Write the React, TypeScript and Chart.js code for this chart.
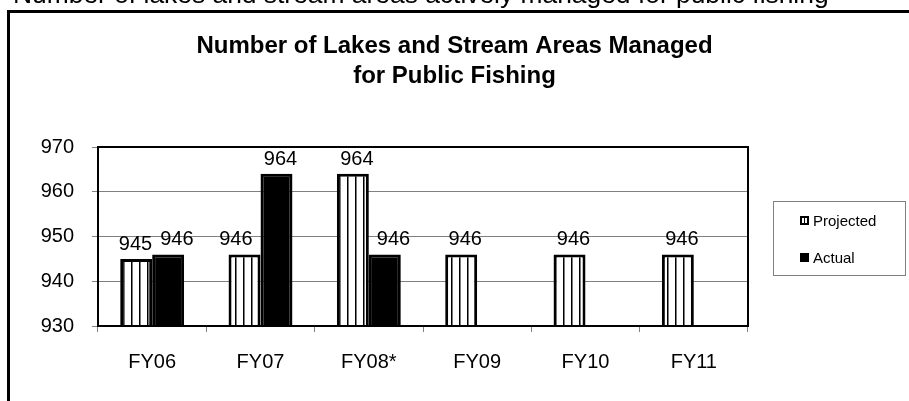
import React, { useEffect, useRef } from 'react';
import { Chart, registerables } from 'chart.js';

Chart.register(...registerables);

const pageHeading = 'Number of lakes and stream areas actively managed for public fishing';
const chartTitleLines = ['Number of Lakes and Stream Areas Managed', 'for Public Fishing'];
const categories = ['FY06', 'FY07', 'FY08*', 'FY09', 'FY10', 'FY11'];
const projectedValues = [945, 946, 964, 946, 946, 946];
const actualValues: (number | null)[] = [946, 964, 946, null, null, null];
const seriesNames = ['Projected', 'Actual'];
const yMin = 930;
const yMax = 970;
const yStep = 10;

const FONT = "'Liberation Sans', Arial, Helvetica, sans-serif";
const W = 909;
const H = 401;

function makeStripePattern(): CanvasPattern | string {
  const c = document.createElement('canvas');
  c.width = 8;
  c.height = 8;
  const g = c.getContext('2d');
  if (!g) return '#fff';
  g.fillStyle = '#fff';
  g.fillRect(0, 0, 8, 8);
  g.fillStyle = '#000';
  g.fillRect(3, 0, 1, 8);
  g.fillStyle = '#7a7a7a';
  g.fillRect(4, 0, 1, 8);
  return g.createPattern(c, 'repeat') || '#fff';
}

const framePlugin = {
  id: 'excelFrame',
  beforeDraw(chart: any) {
    const ctx = chart.ctx as CanvasRenderingContext2D;
    ctx.save();
    ctx.fillStyle = '#fff';
    ctx.fillRect(0, 0, chart.width, chart.height);
    ctx.fillStyle = '#000';
    ctx.font = `26.4px ${FONT}`;
    ctx.textAlign = 'left';
    ctx.textBaseline = 'alphabetic';
    ctx.fillText(pageHeading, 13, 3);
    ctx.strokeStyle = '#000';
    ctx.lineWidth = 3;
    ctx.strokeRect(8.5, 11.5, chart.width + 50, chart.height + 50);
    ctx.font = `bold 24px ${FONT}`;
    ctx.textAlign = 'center';
    chartTitleLines.forEach((t, i) => ctx.fillText(t, chart.width / 2, 53 + i * 30));
    ctx.restore();
  },
  afterDatasetsDraw(chart: any) {
    const ctx = chart.ctx as CanvasRenderingContext2D;
    const a = chart.chartArea;
    ctx.save();
    // plot area border
    ctx.strokeStyle = '#000';
    ctx.lineWidth = 2;
    ctx.strokeRect(a.left, a.top, a.right - a.left, a.bottom - a.top);

    // data labels
    ctx.font = `20px ${FONT}`;
    ctx.fillStyle = '#000';
    ctx.textAlign = 'center';
    ctx.textBaseline = 'alphabetic';
    const labels: any[] = [];
    chart.data.datasets.forEach((ds: any, di: number) => {
      const meta = chart.getDatasetMeta(di);
      meta.data.forEach((el: any, i: number) => {
        const v = ds.data[i];
        if (v == null) return;
        const text = String(v);
        const w = ctx.measureText(text).width;
        labels.push({ di, i, text, w, x: el.x + 4, y: el.y - 9 });
      });
    });
    const PAD = 8;
    labels.forEach((l) => {
      chart.data.datasets.forEach((ds: any, dj: number) => {
        if (dj === l.di || ds.data[l.i] == null) return;
        const el = chart.getDatasetMeta(dj).data[l.i];
        const p = el.getProps(['x', 'y', 'width'], true);
        const bl = p.x - p.width / 2;
        const br = p.x + p.width / 2;
        if (l.y < p.y) return;
        const lx1 = l.x - l.w / 2 - PAD;
        const lx2 = l.x + l.w / 2 + PAD;
        if (lx2 <= bl || lx1 >= br) return;
        if (p.x > l.x) l.x = bl - PAD - l.w / 2;
        else l.x = br + PAD + l.w / 2;
      });
    });
    for (let i = 0; i < labels.length; i++) {
      for (let j = 0; j < labels.length; j++) {
        const A = labels[i];
        const B = labels[j];
        if (i === j || A.i !== B.i || A.x > B.x) continue;
        if (Math.abs(A.y - B.y) >= 16) continue;
        const need = A.w / 2 + B.w / 2 + 8;
        const cur = B.x - A.x;
        if (cur < need) {
          const d = (need - cur) / 2;
          A.x -= d;
          B.x += d;
        }
      }
    }
    labels.forEach((l) => ctx.fillText(l.text, l.x, l.y));

    // legend
    ctx.strokeStyle = '#808080';
    ctx.lineWidth = 1;
    ctx.strokeRect(773.5, 201.5, 132, 74);
    ctx.font = `15px ${FONT}`;
    ctx.textAlign = 'left';
    const baselines = [225.5, 262.5];
    chart.data.datasets.forEach((ds: any, di: number) => {
      const by = baselines[di];
      const mx = 800;
      const my = by - 9.5;
      ctx.fillStyle = '#000';
      ctx.fillRect(mx, my, 9, 9);
      if (di === 0) {
        ctx.fillStyle = '#fff';
        ctx.fillRect(mx + 2, my + 2, 5, 5);
        ctx.fillStyle = '#000';
        ctx.fillRect(mx + 4, my + 2, 1, 5);
      }
      ctx.fillStyle = '#000';
      ctx.fillText(ds.label, 813, by);
    });
    ctx.restore();
  },
};

export default function App() {
  const ref = useRef<HTMLCanvasElement | null>(null);
  useEffect(() => {
    if (!ref.current) return;
    const pattern = makeStripePattern();
    const chart = new Chart(ref.current, {
      type: 'bar',
      data: {
        labels: categories,
        datasets: [
          {
            label: seriesNames[0],
            data: projectedValues,
            backgroundColor: pattern as any,
            borderColor: '#000',
            borderWidth: 3,
            borderSkipped: false,
            categoryPercentage: 0.59,
            barPercentage: 1,
          },
          {
            label: seriesNames[1],
            data: actualValues,
            backgroundColor: '#000',
            borderColor: '#000',
            borderWidth: 3,
            borderSkipped: false,
            categoryPercentage: 0.59,
            barPercentage: 1,
          },
        ],
      },
      options: {
        responsive: false,
        animation: false,
        devicePixelRatio: 1,
        layout: { padding: { left: 0, right: W - 748, top: 147, bottom: 0 } },
        plugins: {
          legend: { display: false },
          title: { display: false },
          tooltip: { enabled: false },
        },
        scales: {
          x: {
            offset: true,
            grid: {
              offset: true,
              drawOnChartArea: false,
              drawTicks: true,
              tickLength: 6,
              color: '#808080',
            },
            border: { display: false },
            ticks: {
              color: '#000',
              font: { family: FONT, size: 20 },
              padding: 18,
              maxRotation: 0,
              autoSkip: false,
            },
            afterFit: (s: any) => {
              s.height = H - 326;
            },
          },
          y: {
            min: yMin,
            max: yMax,
            grid: {
              color: '#808080',
              drawTicks: true,
              tickLength: 6,
            },
            border: { display: false },
            ticks: {
              stepSize: yStep,
              color: '#000',
              font: { family: FONT, size: 20 },
              padding: 18,
            },
            afterFit: (s: any) => {
              s.width = 98;
            },
          },
        },
      },
      plugins: [framePlugin],
    });
    return () => chart.destroy();
  }, []);
  return (
    <div style={{ position: 'fixed', left: 0, top: 0, width: W, height: H, background: '#fff' }}>
      <canvas ref={ref} width={W} height={H} style={{ display: 'block', width: W, height: H }} />
    </div>
  );
}
